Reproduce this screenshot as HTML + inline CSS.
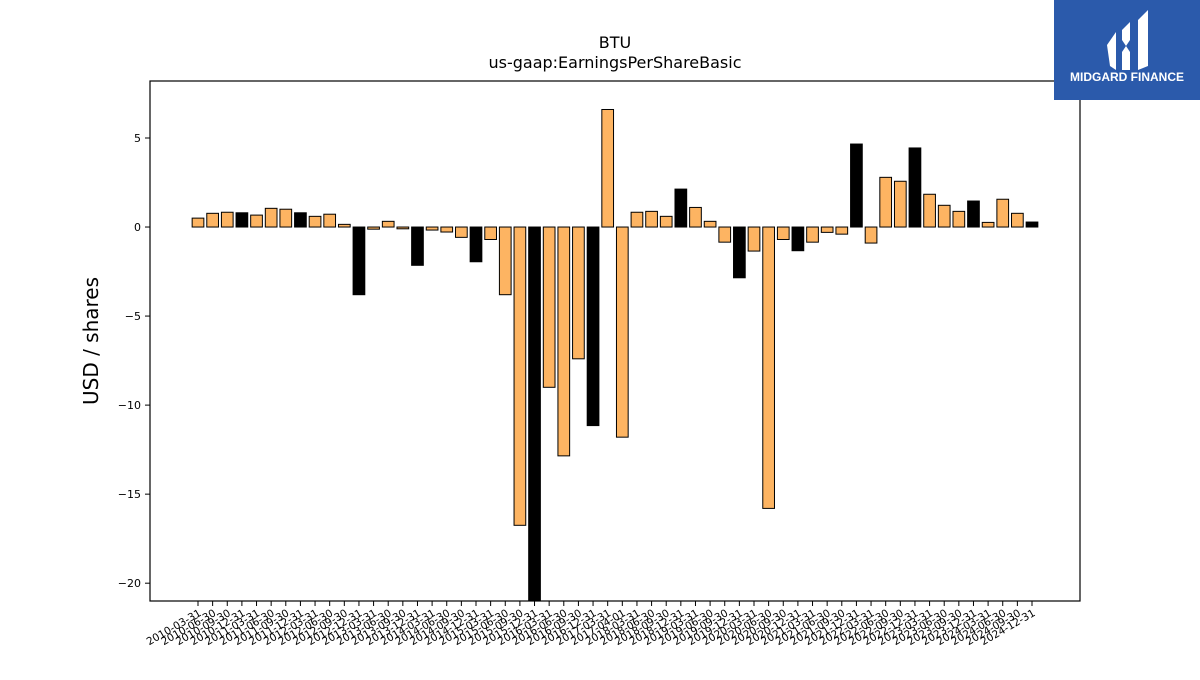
<!DOCTYPE html>
<html><head><meta charset="utf-8"><style>
body{margin:0;background:#fff;width:1200px;height:675px;overflow:hidden;font-family:"Liberation Sans","DejaVu Sans",sans-serif}
</style></head><body>
<svg id="chart" width="1200" height="675" xmlns="http://www.w3.org/2000/svg" font-family="DejaVu Sans, Liberation Sans, sans-serif">
<text x="615" y="48" text-anchor="middle" font-size="16">BTU</text>
<text x="615" y="68" text-anchor="middle" font-size="16">us-gaap:EarningsPerShareBasic</text>
<text transform="translate(98,341) rotate(-90)" text-anchor="middle" font-size="20">USD / shares</text>
<g id="bars"></g>
<g id="yticks"></g>
<g id="xticks"></g>
<rect x="150" y="81" width="930" height="520" fill="none" stroke="#000" stroke-width="1.2"/>
<g>
<rect x="1054" y="0" width="146" height="100" fill="#2b5aab"/>
<path d="M1107 45 L1116 32 L1116 70 L1110 66 Z M1122 30 L1130 22 L1130 40 L1126 46 L1122 40 Z M1122 52 L1126 46 L1130 52 L1130 70 L1122 70 Z M1138 20 L1148 10 L1148 66 L1138 70 Z" fill="#fff"/>
<text x="1127" y="81" text-anchor="middle" font-size="12" font-weight="bold" fill="#fff" font-family="Liberation Sans, sans-serif">MIDGARD FINANCE</text>
</g>
</svg>
<script>
const labels=["2010-03-31","2010-06-30","2010-09-30","2010-12-31","2011-03-31","2011-06-30","2011-09-30","2011-12-31","2012-03-31","2012-06-30","2012-09-30","2012-12-31","2013-03-31","2013-06-30","2013-09-30","2013-12-31","2014-03-31","2014-06-30","2014-09-30","2014-12-31","2015-03-31","2015-06-30","2015-09-30","2015-12-31","2016-03-31","2016-06-30","2016-09-30","2016-12-31","2017-03-31","2017-04-01","2018-03-31","2018-06-30","2018-09-30","2018-12-31","2019-03-31","2019-06-30","2019-09-30","2019-12-31","2020-03-31","2020-06-30","2020-09-30","2020-12-31","2021-03-31","2021-06-30","2021-09-30","2021-12-31","2022-03-31","2022-06-30","2022-09-30","2022-12-31","2023-03-31","2023-06-30","2023-09-30","2023-12-31","2024-03-31","2024-06-30","2024-09-30","2024-12-31"];
const values=[0.5,0.77,0.83,0.8,0.67,1.05,1.0,0.8,0.6,0.72,0.15,-3.8,-0.12,0.32,-0.1,-2.15,-0.17,-0.28,-0.58,-1.95,-0.7,-3.8,-16.75,-21.5,-9.0,-12.85,-7.4,-11.15,6.6,-11.8,0.83,0.88,0.6,2.13,1.1,0.32,-0.85,-2.85,-1.35,-15.8,-0.7,-1.33,-0.85,-0.3,-0.4,4.66,-0.9,2.79,2.57,4.44,1.84,1.22,0.88,1.46,0.26,1.56,0.77,0.28];
const annual=[0,0,0,1,0,0,0,1,0,0,0,1,0,0,0,1,0,0,0,1,0,0,0,1,0,0,0,1,0,0,0,0,0,1,0,0,0,1,0,0,0,1,0,0,0,1,0,0,0,1,0,0,0,1,0,0,0,1];
const yTicks=[5,0,-5,-10,-15,-20];
const yTickLabels=["5","0","\u22125","\u221210","\u221215","\u221220"];
const NS="http://www.w3.org/2000/svg";
const X0=150,X1=1080,Y0=81,Y1=601,YMAX=8.2,YMIN=-21.0;
function yScale(v){return Y0+(YMAX-v)/(YMAX-YMIN)*(Y1-Y0);}
const step=(1032-198)/(labels.length-1);
function xScale(i){return 198+i*step;}
function mk(tag,attrs,parent){const e=document.createElementNS(NS,tag);for(const k in attrs)e.setAttribute(k,attrs[k]);parent.appendChild(e);return e;}
const bars=document.getElementById('bars'),yt=document.getElementById('yticks'),xt=document.getElementById('xticks');
const bw=step*0.8;
values.forEach((v,i)=>{
  const y0=yScale(0),y=yScale(v);
  const top=Math.max(Math.min(y,y0),Y0),bot=Math.min(Math.max(y,y0),Y1);
  const r=mk('rect',{x:xScale(i)-bw/2,y:top,width:bw,height:Math.max(bot-top,0.5),fill:annual[i]?'#000':'#fdb462',stroke:'#000','stroke-width':1},bars);
  
  
  const t=mk('line',{x1:xScale(i),x2:xScale(i),y1:Y1,y2:Y1+5,stroke:'#000'},xt);
  
  
  const lx=xScale(i)+4,ly=Y1+14;
  const tx=mk('text',{x:lx,y:ly,'text-anchor':'end','font-size':10.5,transform:`rotate(-30 ${lx} ${ly})`},xt);
  
  
  tx.textContent=labels[i];
});
yTicks.forEach((v,i)=>{
  const y=yScale(v);
  const l=mk('line',{x1:X0-5,x2:X0,y1:y,y2:y,stroke:'#000'},yt);
  
  
  const t=mk('text',{x:X0-9,y:y+4,'text-anchor':'end','font-size':11},yt);
  
  
  t.textContent=yTickLabels[i];
});
</script>
</body></html>
